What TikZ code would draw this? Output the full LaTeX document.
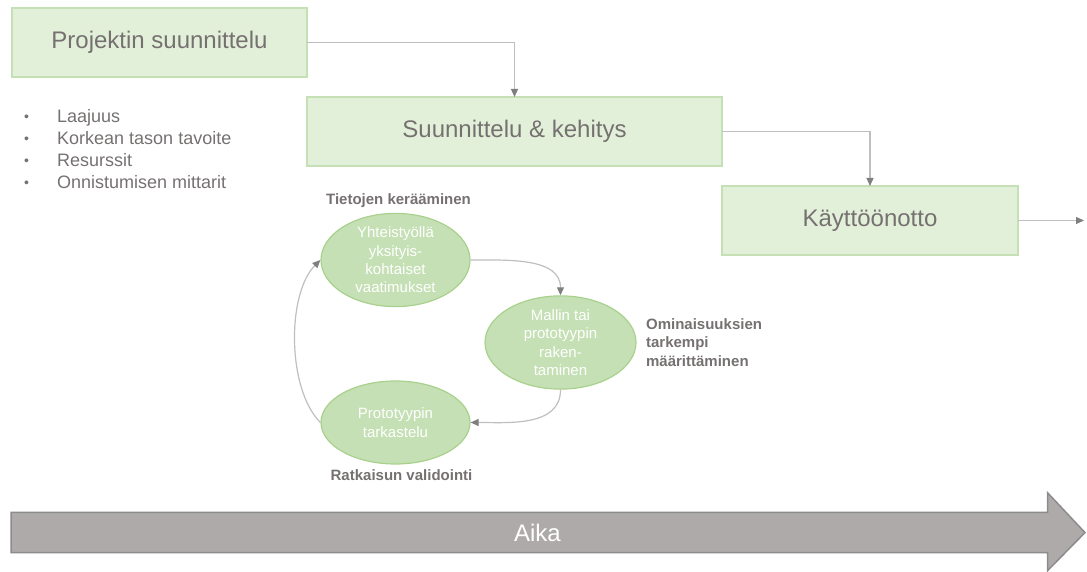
\documentclass[tikz,border=0pt]{standalone}
\usepackage{fontspec}
\setmainfont{Liberation Sans}
\usetikzlibrary{shapes.geometric,arrows.meta,positioning}
\definecolor{boxfill}{HTML}{E2F0D9}
\definecolor{boxline}{HTML}{C5E0B4}
\definecolor{loopfill}{HTML}{C5E0B4}
\definecolor{loopline}{HTML}{A9D18E}
\definecolor{textgray}{HTML}{767171}
\definecolor{linegray}{HTML}{BFBFBF}
\definecolor{tipgray}{HTML}{7F7F7F}
\definecolor{timefill}{HTML}{AEAAAA}
\definecolor{timeline}{HTML}{8C8C8C}

\begin{document}
\begin{tikzpicture}[x=1pt, y=1pt,
    phase/.style={draw=boxline, line width=1.5pt, fill=boxfill, rectangle,
          minimum height=69pt, inner sep=0pt, outer sep=0pt, text=textgray,
          font=\fontsize{24}{29}\selectfont},
    loopnode/.style={draw=loopline, line width=1.2pt, fill=loopfill, ellipse,
          minimum width=149pt, minimum height=83pt, inner sep=0pt, text=white,
          align=center, font=\fontsize{15}{18.3}\selectfont},
    looplabel/.style={text=textgray, font=\bfseries\fontsize{15}{18.3}\selectfont},
    item/.style={text=textgray, inner sep=0pt, font=\fontsize{18}{22}\selectfont},
    flow/.style={draw=linegray, line width=1.2pt,
          -{Triangle[length=8pt, width=7pt, color=tipgray]}}]
    \useasboundingbox (0,0) rectangle (1087,572);

    % Phases, stepping down to the right
    \node[phase, minimum width=295pt, anchor=north west] (planning) at (12,564) {Projektin suunnittelu};
    \node[phase, minimum width=415pt, below right=20pt and 0pt of planning] (design) {Suunnittelu \& kehitys};
    \node[phase, minimum width=296pt, below right=20pt and 0pt of design] (deploy) {Käyttöönotto};
    \coordinate (after) at ([xshift=66pt]deploy.east);

    % Connectors between phases
    \draw[flow] (planning.east) -| (design.north);
    \draw[flow] (design.east) -| (deploy.north);
    \draw[flow] (deploy.east) -- (after);

    % Planning contents
    \foreach \txt [count=\i] in {Laajuus, Korkean tason tavoite, Resurssit, Onnistumisen mittarit} {
        \node[item, anchor=base west] (item\i) at (57,471-22*\i) {\txt};
        \node[item, anchor=base west, font=\fontsize{14}{14}\selectfont] (dot\i) at (24,472-22*\i) {•};
    }

    % Iteration loop
    \node[loopnode, minimum height=84pt] (gather) at (395.5,312) {Yhteistyöllä\\yksityis-\\kohtaiset\\vaatimukset};
    \node[loopnode, minimum width=151pt] (build) at (560.5,229.5) {Mallin tai\\prototyypin\\raken-\\taminen};
    \node[loopnode] (review) at (395.5,149.5) {Prototyypin\\tarkastelu};

    \node[looplabel, above=2pt of gather, xshift=3pt] (gatherlbl) {Tietojen kerääminen};
    \node[looplabel, right=6pt of build, align=left] (buildlbl) {Ominaisuuksien\\tarkempi\\määrittäminen};
    \node[looplabel, below=2pt of review, xshift=6pt] (reviewlbl) {Ratkaisun validointi};

    \draw[flow] (gather.east) to[out=0, in=90] (build.north);
    \draw[flow] (build.south) to[out=-90, in=0] (review.east);
    \draw[flow] (review.west) to[out=135, in=225, looseness=0.75] (gather.west);

    % Time arrow
    \draw[fill=timefill, draw=timeline, line width=1.5pt]
        (11,59.5) -- (1047.5,59.5) -- (1047.5,79.3) -- (1085,39.4)
        -- (1047.5,1.3) -- (1047.5,19.3) -- (11,19.3) -- cycle;
    \node[text=white, font=\fontsize{24}{29}\selectfont] (time) at (537.5,39.4) {Aika};
\end{tikzpicture}
\end{document}
